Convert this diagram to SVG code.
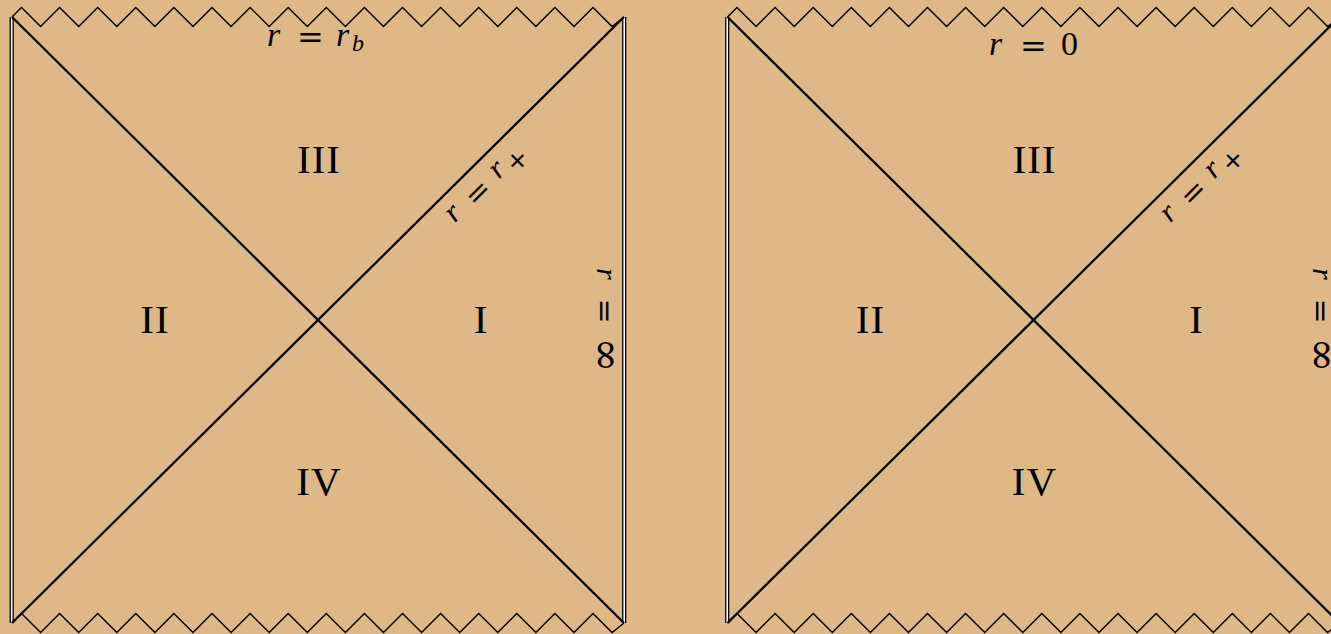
<svg xmlns="http://www.w3.org/2000/svg" xmlns:xlink="http://www.w3.org/1999/xlink" width="1331" height="634" viewBox="0 0 1331 634">
<style>
.zz{fill:none;stroke:#000;stroke-width:1.4;stroke-linejoin:miter}
.diag{stroke:#000;stroke-width:2.2;fill:none}
.dblo{stroke:#000;stroke-width:4.2}
.dbli{stroke:#fff;stroke-width:1.6}
.roman{font-family:"Liberation Serif","DejaVu Serif",serif;font-size:41px;letter-spacing:1px;fill:#000;text-anchor:middle}
.mi{font-family:"Liberation Serif","DejaVu Serif",serif;font-style:italic;fill:#000}
.mr{font-family:"Liberation Serif","DejaVu Serif",serif;fill:#000}
.eq{font-family:"DejaVu Serif",serif;fill:#000;text-anchor:middle}
</style>
<defs>
<polyline id="zz" class="zz" points="0,0 9.5,-9.5 28.6,9.5 47.6,-9.5 66.7,9.5 85.7,-9.5 104.8,9.5 123.8,-9.5 142.9,9.5 161.9,-9.5 181,9.5 200,-9.5 219.1,9.5 238.1,-9.5 257.2,9.5 276.2,-9.5 295.3,9.5 314.3,-9.5 333.4,9.5 352.4,-9.5 371.5,9.5 390.5,-9.5 409.6,9.5 428.6,-9.5 447.7,9.5 466.7,-9.5 485.8,9.5 504.8,-9.5 523.9,9.5 542.9,-9.5 562,9.5 581,-9.5 600.1,9.5 612,0"/>
<g id="frame">
<use xlink:href="#zz" href="#zz" transform="translate(12,17)"/>
<use xlink:href="#zz" href="#zz" transform="translate(12,623)"/>
<line class="dblo" x1="11.7" y1="17" x2="11.7" y2="623"/>
<line class="dbli" x1="11.7" y1="17" x2="11.7" y2="623"/>
<line class="dblo" x1="624.2" y1="17" x2="624.2" y2="623"/>
<line class="dbli" x1="624.2" y1="17" x2="624.2" y2="623"/>
</g>
</defs>
<rect width="1331" height="634" fill="#DEB887"/>
<g id="left-diagram">
<use xlink:href="#frame" href="#frame"/>
<g id="left-connectors">
<line class="diag" x1="12" y1="17" x2="624" y2="623"/>
<line class="diag" x1="624" y1="17" x2="12" y2="623"/>
</g>
<g id="left-III"><text class="roman" x="319" y="173">III</text></g>
<g id="left-II"><text class="roman" x="155" y="333">II</text></g>
<g id="left-I"><text class="roman" x="481" y="333">I</text></g>
<g id="left-IV"><text class="roman" x="319" y="495">IV</text></g>
<g id="left-top-label">
<text class="mi" x="267" y="46" font-size="34">r</text>
<text class="eq" x="310.5" y="48" font-size="32">=</text>
<text class="mi" x="336" y="46" font-size="34">r</text>
<text class="mi" x="352" y="51" font-size="24">b</text>
</g>
<g id="left-horizon-label" transform="translate(477.5,192.5) rotate(-45)">
<text class="mi" x="-38" y="6" font-size="31">r</text>
<text class="eq" x="0" y="10" font-size="30">=</text>
<text class="mi" x="24" y="6" font-size="31">r</text>
<text class="eq" x="50.6" y="14" font-size="26">+</text>
</g>
<g id="left-infinity-label" transform="translate(603,320) rotate(90)">
<text class="mi" x="-52" y="6" font-size="30">r</text>
<text class="eq" x="-9" y="8" font-size="30">=</text>
<text class="eq" x="35" y="10" font-size="42">∞</text>
</g>
</g>
<g id="right-diagram">
<use xlink:href="#frame" href="#frame" transform="translate(715.5,0)"/>
<g id="right-connectors">
<line class="diag" x1="727.5" y1="17" x2="1339.5" y2="623"/>
<line class="diag" x1="1339.5" y1="17" x2="727.5" y2="623"/>
</g>
<g id="right-III"><text class="roman" x="1034.5" y="173">III</text></g>
<g id="right-II"><text class="roman" x="870.5" y="333">II</text></g>
<g id="right-I"><text class="roman" x="1196.5" y="333">I</text></g>
<g id="right-IV"><text class="roman" x="1034.5" y="495">IV</text></g>
<g id="right-top-label">
<text class="mi" x="989" y="55" font-size="34">r</text>
<text class="eq" x="1033.5" y="57" font-size="32">=</text>
<text class="mr" x="1069.5" y="55" font-size="34" text-anchor="middle">0</text>
</g>
<g id="right-horizon-label" transform="translate(1193,192.5) rotate(-45)">
<text class="mi" x="-38" y="6" font-size="31">r</text>
<text class="eq" x="0" y="10" font-size="30">=</text>
<text class="mi" x="24" y="6" font-size="31">r</text>
<text class="eq" x="50.6" y="14" font-size="26">+</text>
</g>
<g id="right-infinity-label" transform="translate(1318.5,320) rotate(90)">
<text class="mi" x="-52" y="6" font-size="30">r</text>
<text class="eq" x="-9" y="8" font-size="30">=</text>
<text class="eq" x="35" y="10" font-size="42">∞</text>
</g>
</g>
</svg>
